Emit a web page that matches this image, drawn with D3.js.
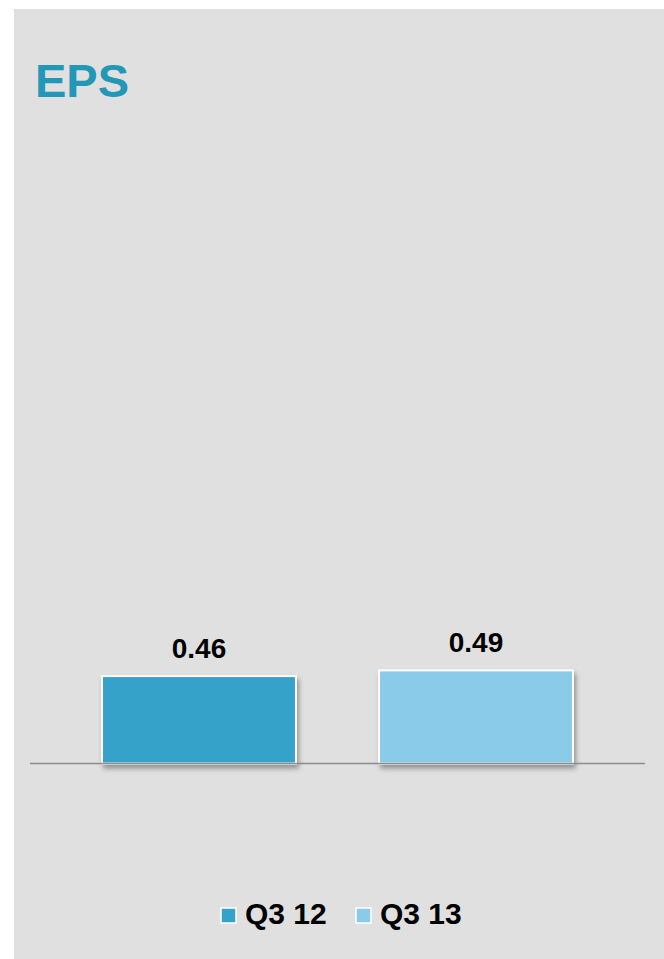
<!DOCTYPE html>
<html>
<head>
<meta charset="utf-8">
<script src="https://cdn.jsdelivr.net/npm/d3@7"></script>
<style>
  html, body { margin: 0; padding: 0; background: #ffffff; }
  svg { display: block; }
</style>
</head>
<body>
<script>
// EPS comparison, quarter over quarter
const categories = ["Q3 12", "Q3 13"];
const values = [0.46, 0.49];
const colors = ["#34a2c9", "#8bcbea"];
const title = "EPS";

const W = 664, H = 959;
const svg = d3.select("body").append("svg").attr("width", W).attr("height", H);

// panel background
svg.append("rect").attr("x", 14).attr("y", 9).attr("width", W - 14).attr("height", H - 9)
  .attr("fill", "#e0e0e0");

const defs = svg.append("defs");
const f = defs.append("filter").attr("id", "shadow")
  .attr("x", "-10%").attr("y", "-10%").attr("width", "130%").attr("height", "130%");
f.append("feDropShadow").attr("dx", 2).attr("dy", 4).attr("stdDeviation", 2.5)
  .attr("flood-color", "#000").attr("flood-opacity", 0.35);

svg.append("text").attr("x", 35).attr("y", 97)
  .attr("font-family", "Liberation Sans, Arial, sans-serif")
  .attr("font-weight", "bold").attr("font-size", 47)
  .attr("fill", "#2397b6").text(title);

const baseY = 763.5;
const x = d3.scaleBand().domain(categories).range([30, 645]).paddingInner(0.3).paddingOuter(0.26);
const y = d3.scaleLinear().domain([0, 1]).range([baseY, baseY - 190]);

const bars = svg.append("g");
bars.selectAll("rect").data(categories).join("rect")
  .attr("x", d => x(d))
  .attr("y", (d, i) => y(values[i]))
  .attr("width", x.bandwidth())
  .attr("height", (d, i) => baseY - y(values[i]))
  .attr("fill", (d, i) => colors[i])
  .attr("stroke", "#ffffff").attr("stroke-width", 2)
  .attr("filter", "url(#shadow)");

// baseline
svg.append("line").attr("x1", 30).attr("x2", 645).attr("y1", baseY).attr("y2", baseY)
  .attr("stroke", "#8c8c8c").attr("stroke-width", 1.5);

// value labels
svg.append("g").selectAll("text").data(categories).join("text")
  .attr("x", d => x(d) + x.bandwidth() / 2)
  .attr("y", (d, i) => y(values[i]) - 18.5)
  .attr("text-anchor", "middle")
  .attr("font-family", "Liberation Sans, Arial, sans-serif")
  .attr("font-weight", "bold").attr("font-size", 28)
  .attr("fill", "#000").text((d, i) => values[i].toFixed(2));

// legend
const legend = svg.append("g");
const legX = [221, 356];
categories.forEach((c, i) => {
  legend.append("rect").attr("x", legX[i]).attr("y", 908).attr("width", 15).attr("height", 15)
    .attr("fill", colors[i]).attr("stroke", "#ffffff").attr("stroke-width", 1.5);
  legend.append("text").attr("x", legX[i] + 24).attr("y", 924)
    .attr("font-family", "Liberation Sans, Arial, sans-serif")
    .attr("font-weight", "bold").attr("font-size", 30)
    .attr("fill", "#000").text(c);
});
</script>
</body>
</html>
